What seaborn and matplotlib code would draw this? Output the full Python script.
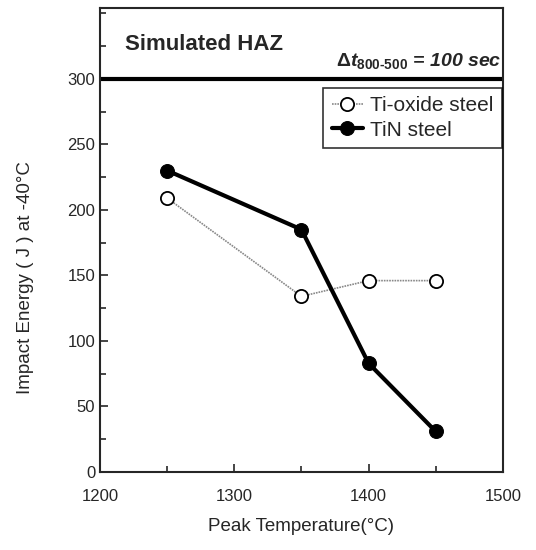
import pandas as pd
import seaborn as sns
import matplotlib.pyplot as plt
from matplotlib.ticker import MultipleLocator

# Data
peak_temp = [1250, 1350, 1400, 1450]
ti_oxide = [209, 134, 146, 146]
tin = [230, 185, 83, 31]

df = pd.DataFrame({
    'temp': peak_temp * 2,
    'energy': ti_oxide + tin,
    'steel': ['Ti-oxide steel'] * 4 + ['TiN steel'] * 4,
})

sns.set_style('ticks')
plt.rcParams['font.family'] = ['Liberation Sans', 'DejaVu Sans']
plt.rcParams['mathtext.fontset'] = 'custom'
plt.rcParams['mathtext.it'] = 'Liberation Sans:italic:bold'
plt.rcParams['mathtext.rm'] = 'Liberation Sans:bold'

fig = plt.figure(figsize=(5.36, 5.5), dpi=100)
ax = fig.add_axes([0.1866, 0.1418, 0.7514, 0.8437])

sns.lineplot(data=df[df.steel == 'Ti-oxide steel'], x='temp', y='energy', ax=ax,
             color='#888888', lw=1.2, linestyle=(0, (1, 0.6)), marker='o', markersize=9.5,
             markerfacecolor='white', markeredgecolor='black', markeredgewidth=1.3,
             label='Ti-oxide steel')
sns.lineplot(data=df[df.steel == 'TiN steel'], x='temp', y='energy', ax=ax,
             color='black', lw=3, marker='o', markersize=10,
             markerfacecolor='black', markeredgecolor='black',
             label='TiN steel')

ax.axhline(300, color='black', lw=3)

ax.set_xlim(1200, 1500)
ax.set_ylim(0, 354)
ax.xaxis.set_major_locator(MultipleLocator(100))
ax.xaxis.set_minor_locator(MultipleLocator(50))
ax.yaxis.set_minor_locator(MultipleLocator(25))
ax.set_yticks([0, 50, 100, 150, 200, 250, 300])
ax.tick_params(which='both', direction='in', labelsize=12, width=1.2)
ax.tick_params(which='major', length=6)
ax.tick_params(which='minor', length=4)
ax.tick_params(axis='x', pad=12)
for s in ax.spines.values():
    s.set_linewidth(1.5)

ax.set_xlabel('Peak Temperature(°C)', fontsize=13.5, labelpad=10)
ax.set_ylabel('Impact Energy ( J ) at -40°C', fontsize=13.5, labelpad=24)
ax.yaxis.label.set_y(0.42)

ax.text(0.062, 0.922, 'Simulated HAZ', transform=ax.transAxes,
        fontsize=16, fontweight='bold', va='center')
ax.text(0.997, 0.876, r'$\Delta t_{800\text{-}500}$' + ' = 100 sec', transform=ax.transAxes,
        fontsize=14, fontweight='bold', style='italic', ha='right', va='baseline')

leg = ax.legend(loc='upper right', bbox_to_anchor=(0.9975, 0.8276), fontsize=15,
                frameon=True, fancybox=False, handlelength=1.5, borderpad=0.4,
                labelspacing=0.25, handletextpad=0.35, borderaxespad=0)
leg.get_frame().set_edgecolor('black')
leg.get_frame().set_linewidth(1.2)

fig.savefig('out.png', dpi=100)
